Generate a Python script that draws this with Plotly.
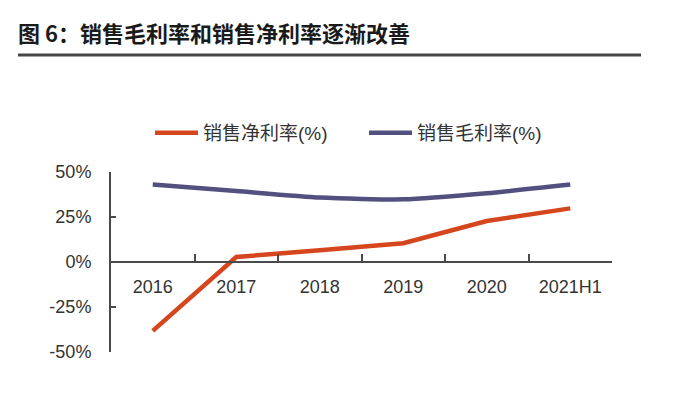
import plotly.graph_objects as go

categories = ["2016", "2017", "2018", "2019", "2020", "2021H1"]
net_margin = [-38.3, 2.8, 6.5, 10.4, 22.8, 29.8]
gross_margin = [43.0, 39.4, 35.8, 34.8, 38.2, 43.0]
y_ticks = [-50, -25, 0, 25, 50]
y_tick_labels = ["-50%", "-25%", "0%", "25%", "50%"]
title_text = "图 6：销售毛利率和销售净利率逐渐改善"
net_name = "销售净利率(%)"
gross_name = "销售毛利率(%)"

RED = "#D6461E"
PURPLE = "#51507F"
AXIS = "#4a4a4a"
TEXT = "#333333"
FONT = "Liberation Sans, Noto Sans CJK SC, sans-serif"

fig = go.Figure()
fig.add_trace(go.Scatter(x=categories, y=net_margin, name=net_name, mode="lines",
                         line=dict(color=RED, width=4.5)))
fig.add_trace(go.Scatter(x=categories, y=gross_margin, name=gross_name, mode="lines",
                         line=dict(color=PURPLE, width=4.5, shape="spline", smoothing=0.6)))

OFF = 8  # page body margin
W, H = 675 - OFF, 395 - OFF
L, T = 111 - OFF, 172 - OFF
pw, ph = 501, 180
R, B = W - L - pw, H - T - ph

def px(xr):
    return (xr - OFF - L) / pw

def py(yr):
    return (T + ph - (yr - OFF)) / ph

fig.update_layout(
    width=W, height=H,
    margin=dict(l=L, r=R, t=T, b=B),
    paper_bgcolor="white", plot_bgcolor="white",
    font=dict(family=FONT, size=18, color=TEXT),
    title=dict(text="<b>" + title_text + "</b>", x=(18 - OFF) / W, xanchor="left",
               y=1 - (34 - OFF) / H, yanchor="middle",
               font=dict(family="Noto Sans CJK SC, sans-serif", size=22, color="#1a1a1a")),
    showlegend=True,
    legend=dict(orientation="h", x=px(150), xanchor="left",
                y=py(133), yanchor="middle", itemwidth=43,
                font=dict(family="Liberation Sans, Noto Sans CJK SC, sans-serif", size=19, color=TEXT),
                entrywidth=156, entrywidthmode="pixels", bgcolor="rgba(0,0,0,0)"),
    xaxis=dict(type="category", range=[-0.5, len(categories) - 0.5],
               anchor="free", position=0.5, showgrid=False, zeroline=False,
               showline=True, linecolor=AXIS, linewidth=2,
               ticks="inside", tickson="boundaries", ticklen=7, tickcolor=AXIS, tickwidth=1.5,
               ticklabelstandoff=8, tickfont=dict(size=18, color=TEXT)),
    yaxis=dict(range=[-50, 50], tickvals=y_ticks, ticktext=y_tick_labels, showgrid=False,
               zeroline=False, showline=True, linecolor=AXIS, linewidth=2,
               ticks="inside", ticklen=5, tickcolor=AXIS, tickwidth=1.5,
               ticklabelstandoff=14, tickfont=dict(size=18, color=TEXT)),
)

# title underline
fig.add_shape(type="line", xref="paper", yref="paper",
              x0=px(18), x1=px(641), y0=py(55), y1=py(55),
              line=dict(color="#474747", width=3))

fig.write_html("out.html")
